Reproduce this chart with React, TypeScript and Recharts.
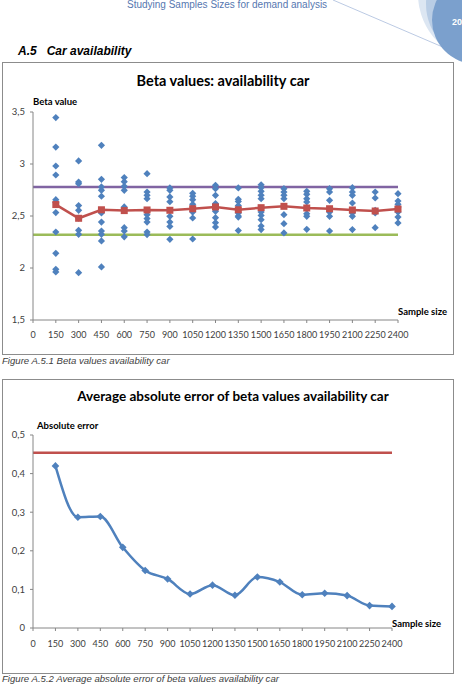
import React from 'react';
import { ComposedChart, LineChart, Scatter, Line, XAxis, YAxis, ReferenceLine } from 'recharts';

// sample sizes (x) and axis ticks
const sampleSizes = [150, 300, 450, 600, 750, 900, 1050, 1200, 1350, 1500, 1650, 1800, 1950, 2100, 2250, 2400];
const xTicks = [0, 150, 300, 450, 600, 750, 900, 1050, 1200, 1350, 1500, 1650, 1800, 1950, 2100, 2250, 2400];
const betaTicks = [1.5, 2, 2.5, 3, 3.5];
const errorTicks = [0, 0.1, 0.2, 0.3, 0.4, 0.5];

// estimated beta values per sample size (one list per entry of sampleSizes)
const betaBySize = [
  [3.446, 3.163, 2.981, 2.894, 2.657, 2.63, 2.533, 2.346, 2.141, 1.987, 1.962],
  [3.03, 2.827, 2.81, 2.6, 2.555, 2.48, 2.362, 2.324, 1.955],
  [3.18, 2.853, 2.78, 2.747, 2.69, 2.53, 2.442, 2.356, 2.324, 2.26, 2.01],
  [2.869, 2.83, 2.785, 2.747, 2.587, 2.56, 2.388, 2.356, 2.3],
  [2.907, 2.731, 2.699, 2.667, 2.548, 2.513, 2.475, 2.442, 2.346, 2.321],
  [2.77, 2.747, 2.683, 2.638, 2.555, 2.497, 2.442, 2.4, 2.276],
  [2.718, 2.69, 2.657, 2.612, 2.538, 2.481, 2.279],
  [2.795, 2.763, 2.699, 2.619, 2.545, 2.484, 2.436, 2.394],
  [2.77, 2.66, 2.64, 2.6, 2.53, 2.5, 2.49, 2.36],
  [2.8, 2.772, 2.737, 2.7, 2.667, 2.538, 2.506, 2.465, 2.404, 2.369],
  [2.763, 2.731, 2.7, 2.667, 2.513, 2.426, 2.337],
  [2.737, 2.708, 2.667, 2.635, 2.522, 2.497, 2.372],
  [2.763, 2.731, 2.651, 2.538, 2.497, 2.356],
  [2.772, 2.731, 2.699, 2.625, 2.529, 2.497, 2.369],
  [2.731, 2.673, 2.555, 2.529, 2.388],
  [2.715, 2.644, 2.612, 2.587, 2.538, 2.49, 2.433],
];
const meanBeta = [2.61, 2.478, 2.56, 2.552, 2.558, 2.555, 2.57, 2.587, 2.56, 2.58, 2.593, 2.577, 2.57, 2.558, 2.548, 2.567];
const betaUpper = 2.78;
const betaLower = 2.32;

const absError = [0.42, 0.287, 0.289, 0.209, 0.149, 0.127, 0.088, 0.111, 0.085, 0.132, 0.119, 0.086, 0.09, 0.084, 0.058, 0.056];
const errorLimit = 0.454;

const scatterPoints = sampleSizes.flatMap((n, i) => betaBySize[i].map((beta) => ({ n, beta })));
const meanPoints = sampleSizes.map((n, i) => ({ n, beta: meanBeta[i] }));
const errorPoints = sampleSizes.map((n, i) => ({ n, err: absError[i] }));

const FONT = 'Lato, "Open Sans", sans-serif';
const SANS = '"Liberation Sans", Arial, sans-serif';
const BLUE = '#4f81bd';
const RED = '#c0504d';
const AXIS = '#868686';
const xTickStyle = { fill: '#404040', fontSize: 9, fontFamily: FONT };
const yTickStyle = { fill: '#404040', fontSize: 9.5, fontFamily: FONT };
const comma = (v: number) => String(v).replace('.', ',');

const diamond = (p: any) => {
  const { cx, cy } = p;
  const r = 3.6;
  return <polygon points={`${cx},${cy - r} ${cx + r},${cy} ${cx},${cy + r} ${cx - r},${cy}`} fill={BLUE} />;
};

const diamondDot = (p: any) => (
  <polygon
    key={`d${p.index}`}
    points={`${p.cx},${p.cy - 3.8} ${p.cx + 3.8},${p.cy} ${p.cx},${p.cy + 3.8} ${p.cx - 3.8},${p.cy}`}
    fill={BLUE}
  />
);

const squareDot = (p: any) => (
  <rect key={`s${p.index}`} x={p.cx - 3.5} y={p.cy - 3.5} width={7} height={7} fill={RED} />
);

const boxStyle: React.CSSProperties = {
  position: 'absolute',
  border: '1px solid #8c8c8c',
  boxSizing: 'border-box',
};

const abs = (left: number, top: number, extra: React.CSSProperties = {}): React.CSSProperties => ({
  position: 'absolute',
  left,
  top,
  whiteSpace: 'nowrap',
  ...extra,
});

const axisTitle: React.CSSProperties = { fontFamily: FONT, fontWeight: 700, fontSize: 9.5, color: '#000' };
const caption: React.CSSProperties = { fontFamily: SANS, fontStyle: 'italic', fontSize: 9.6, color: '#404040' };

export default function App() {
  return (
    <div style={{ position: 'absolute', left: 0, top: 0, width: 462, height: 684, overflow: 'hidden', background: '#fff' }}>
      {/* page header */}
      <svg width={462} height={70} style={{ position: 'absolute', left: 0, top: 0 }}>
        <line x1={333} y1={0} x2={445} y2={48} stroke="#a9bcdc" strokeWidth={0.8} />
        <circle cx={486} cy={-6} r={68} fill="#dce6f2" />
        <circle cx={482} cy={4} r={56} fill="#b9cde5" />
        <circle cx={476} cy={20} r={44} fill="#7ba0cd" />
        <text x={452} y={25} fill="#fff" fontSize={9} fontFamily={SANS} fontWeight={700}>20</text>
      </svg>
      <div style={abs(127, -1, { fontFamily: SANS, fontSize: 10, color: '#5677b0' })}>
        Studying Samples Sizes for demand analysis
      </div>
      <div style={abs(18, 44, { fontFamily: SANS, fontSize: 12, fontWeight: 700, fontStyle: 'italic', color: '#000' })}>
        A.5&nbsp;&nbsp;&nbsp;Car availability
      </div>

      {/* chart 1 */}
      <div style={{ ...boxStyle, left: 2, top: 62, width: 452, height: 293 }} />
      <div style={abs(2, 62)}>
        <ComposedChart width={451} height={292} margin={{ top: 50, right: 55, bottom: 10, left: 0 }}>
          <XAxis
            type="number"
            dataKey="n"
            domain={[0, 2400]}
            ticks={xTicks}
            interval={0}
            height={24}
            tickSize={3}
            tickMargin={9}
            stroke={AXIS}
            tick={xTickStyle}
          />
          <YAxis
            type="number"
            dataKey="beta"
            domain={[1.5, 3.5]}
            ticks={betaTicks}
            width={31}
            tickSize={3}
            tickMargin={5}
            tickFormatter={comma}
            stroke={AXIS}
            tick={yTickStyle}
          />
          <ReferenceLine y={betaUpper} stroke="#8064a2" strokeWidth={2.5} />
          <ReferenceLine y={betaLower} stroke="#9bbb59" strokeWidth={2.5} />
          <Scatter data={scatterPoints} dataKey="beta" fill={BLUE} shape={diamond} isAnimationActive={false} />
          <Line data={meanPoints} dataKey="beta" type="linear" stroke={RED} strokeWidth={2.5} dot={squareDot} isAnimationActive={false} />
        </ComposedChart>
      </div>
      <div style={abs(0, 72, { width: 462, textAlign: 'center', fontFamily: FONT, fontWeight: 700, fontSize: 14.5, color: '#000' })}>
        <span style={{ position: 'relative', left: -8 }}>Beta values: availability car</span>
      </div>
      <div style={abs(33, 96, axisTitle)}>Beta value</div>
      <div style={abs(398, 306, axisTitle)}>Sample size</div>
      <div style={abs(2, 355, caption)}>Figure A.5.1 Beta values availability car</div>

      {/* chart 2 */}
      <div style={{ ...boxStyle, left: 2, top: 379, width: 452, height: 295 }} />
      <div style={abs(2, 379)}>
        <LineChart width={451} height={294} data={errorPoints} margin={{ top: 56, right: 61, bottom: 21, left: 0 }}>
          <XAxis
            type="number"
            dataKey="n"
            domain={[0, 2400]}
            ticks={xTicks}
            interval={0}
            height={24}
            tickSize={3}
            tickMargin={10}
            stroke={AXIS}
            tick={xTickStyle}
          />
          <YAxis
            type="number"
            domain={[0, 0.5]}
            ticks={errorTicks}
            width={31}
            tickSize={3}
            tickMargin={5}
            tickFormatter={comma}
            stroke={AXIS}
            tick={yTickStyle}
          />
          <ReferenceLine y={errorLimit} stroke={RED} strokeWidth={2.5} />
          <Line dataKey="err" type="monotone" stroke={BLUE} strokeWidth={2.5} dot={diamondDot} isAnimationActive={false} />
        </LineChart>
      </div>
      <div style={abs(0, 388, { width: 462, textAlign: 'center', fontFamily: FONT, fontWeight: 700, fontSize: 13.5, color: '#000' })}>
        <span style={{ position: 'relative', left: 2 }}>Average absolute error of beta values availability car</span>
      </div>
      <div style={abs(37, 420, axisTitle)}>Absolute error</div>
      <div style={abs(392, 618, axisTitle)}>Sample size</div>
      <div style={abs(2, 673, caption)}>Figure A.5.2 Average absolute error of beta values availability car</div>
    </div>
  );
}
